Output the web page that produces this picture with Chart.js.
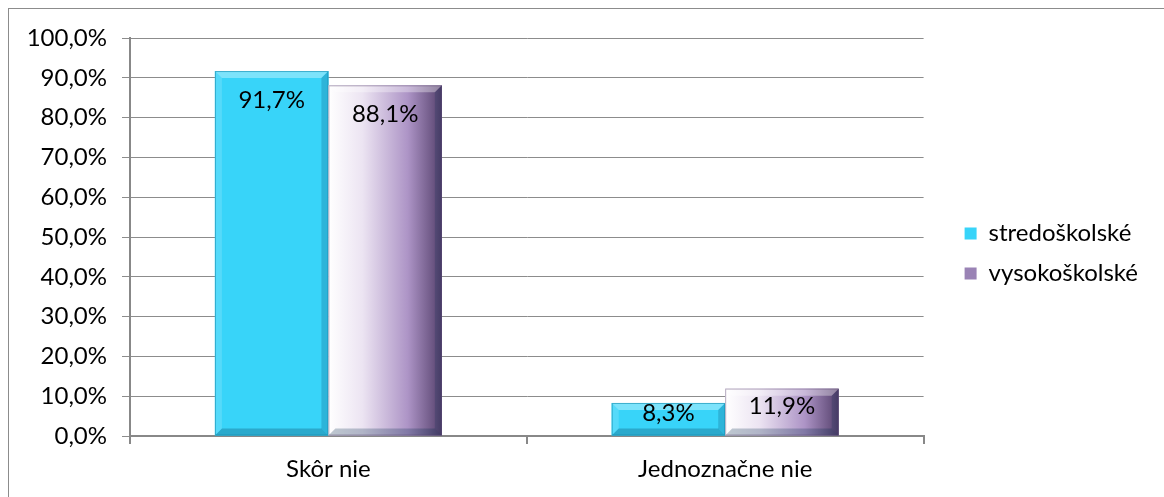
<!DOCTYPE html>
<html>
<head>
<meta charset="utf-8">
<script src="https://cdn.jsdelivr.net/npm/chart.js@4/dist/chart.umd.min.js"></script>
<style>
  html, body { margin: 0; padding: 0; background: #fff; overflow: hidden; }
  #frame { position: absolute; left: 8px; top: 8px; width: 1170px; height: 500px; border: 1px solid #8c8c8c; }
  #wrap { position: absolute; left: 0; top: 0; width: 1164px; height: 497px; }
</style>
</head>
<body>
<div id="frame"></div>
<div id="wrap"><canvas id="chart"></canvas></div>
<script>
const categories = ['Skôr nie', 'Jednoznačne nie'];
const seriesNames = ['stredoškolské', 'vysokoškolské'];
const stredoskolske = [91.7, 8.3];
const vysokoskolske = [88.1, 11.9];
const yTicks = [0, 10, 20, 30, 40, 50, 60, 70, 80, 90, 100];

const FONT = 'Lato, "Open Sans", sans-serif';
const FS = 24;
const fmt = v => v.toFixed(1).replace('.', ',') + '%';

// paint the bevelled gradient on top of each bar, then the value label
const bevelBars = {
  id: 'bevelBars',
  afterDatasetsDraw(chart) {
    const ctx = chart.ctx;
    chart.data.datasets.forEach((ds, di) => {
      const meta = chart.getDatasetMeta(di);
      meta.data.forEach((bar, i) => {
        const l = bar.x - bar.width / 2, r = bar.x + bar.width / 2;
        const t = bar.y, b = bar.base;
        const w = r - l, h = b - t;
        ctx.save();
        if (di === 0) {
          ctx.fillStyle = '#38d4f9';
        } else {
          const g = ctx.createLinearGradient(l, 0, r, 0);
          g.addColorStop(0, '#ffffff');
          g.addColorStop(0.3, '#ece4f2');
          g.addColorStop(0.7, '#ad94c6');
          g.addColorStop(1, '#55406c');
          ctx.fillStyle = g;
        }
        ctx.fillRect(l, t, w, h);
        const bv = Math.min(7, h / 2);
        ctx.fillStyle = 'rgba(255,255,255,0.35)';
        ctx.beginPath();
        ctx.moveTo(l, t); ctx.lineTo(r, t); ctx.lineTo(r - bv, t + bv); ctx.lineTo(l + bv, t + bv);
        ctx.closePath(); ctx.fill();
        ctx.fillStyle = 'rgba(255,255,255,0.15)';
        ctx.beginPath();
        ctx.moveTo(l, t); ctx.lineTo(l + bv, t + bv); ctx.lineTo(l + bv, b - bv); ctx.lineTo(l, b);
        ctx.closePath(); ctx.fill();
        ctx.fillStyle = 'rgba(0,40,70,0.18)';
        ctx.beginPath();
        ctx.moveTo(r, t); ctx.lineTo(r - bv, t + bv); ctx.lineTo(r - bv, b - bv); ctx.lineTo(r, b);
        ctx.closePath(); ctx.fill();
        ctx.fillStyle = 'rgba(0,40,70,0.25)';
        ctx.beginPath();
        ctx.moveTo(l, b); ctx.lineTo(r, b); ctx.lineTo(r - bv, b - bv); ctx.lineTo(l + bv, b - bv);
        ctx.closePath(); ctx.fill();
        ctx.strokeStyle = di === 0 ? 'rgba(20,140,175,0.6)' : 'rgba(90,70,110,0.4)';
        ctx.lineWidth = 1;
        ctx.strokeRect(l + 0.5, t + 0.5, w - 1, h - 1);

        // value label
        ctx.fillStyle = '#000';
        ctx.font = FS + 'px ' + FONT;
        ctx.textAlign = 'center';
        ctx.textBaseline = 'middle';
        const ly = Math.min(t + 29, (t + b) / 2 - 6);
        ctx.fillText(fmt(ds.data[i]), bar.x, ly);
        ctx.restore();
      });
    });
  }
};

// nudge the legend to where Excel put it (left of the free right margin, a bit higher)
const legendShift = {
  id: 'legendShift',
  beforeLayout(chart) {
    const lg = chart.legend;
    if (!lg || lg._shifted) return;
    const draw = lg.draw;
    lg.draw = function () {
      const ctx = this.ctx;
      ctx.save();
      ctx.translate(25, -14);
      draw.call(this);
      ctx.restore();
    };
    lg._shifted = true;
  }
};

new Chart(document.getElementById('chart'), {
  type: 'bar',
  data: {
    labels: categories,
    datasets: [
      { label: seriesNames[0], data: stredoskolske, backgroundColor: '#38d4f9', borderWidth: 0 },
      { label: seriesNames[1], data: vysokoskolske, backgroundColor: '#9a83b5', borderWidth: 0 }
    ]
  },
  options: {
    responsive: true,
    maintainAspectRatio: false,
    animation: false,
    layout: { padding: { top: 38, right: 41, bottom: 0, left: 0 } },
    datasets: { bar: { categoryPercentage: 0.572, barPercentage: 1 } },
    plugins: {
      tooltip: { enabled: false },
      legend: {
        position: 'right',
        labels: {
          font: { family: FONT, size: FS },
          color: '#000',
          boxWidth: 12,
          boxHeight: 12,
          padding: 16
        }
      }
    },
    scales: {
      x: {
        grid: { display: true, drawOnChartArea: false, drawTicks: true, tickLength: 8, color: '#888', lineWidth: 2, offset: true },
        border: { color: '#888', width: 2 },
        ticks: { font: { family: FONT, size: FS }, color: '#000', padding: 11 },
        afterFit: s => { s.height = 61; }
      },
      y: {
        min: 0,
        max: 100,
        afterBuildTicks: s => { s.ticks = yTicks.map(v => ({ value: v })); },
        grid: { color: '#8c8c8c', lineWidth: 1, tickLength: 8 },
        border: { color: '#888', width: 2 },
        ticks: { font: { family: FONT, size: FS }, color: '#000', padding: 15, callback: v => fmt(v) },
        afterFit: s => { s.width = 130; }
      }
    }
  },
  plugins: [bevelBars, legendShift]
});
</script>
</body>
</html>
